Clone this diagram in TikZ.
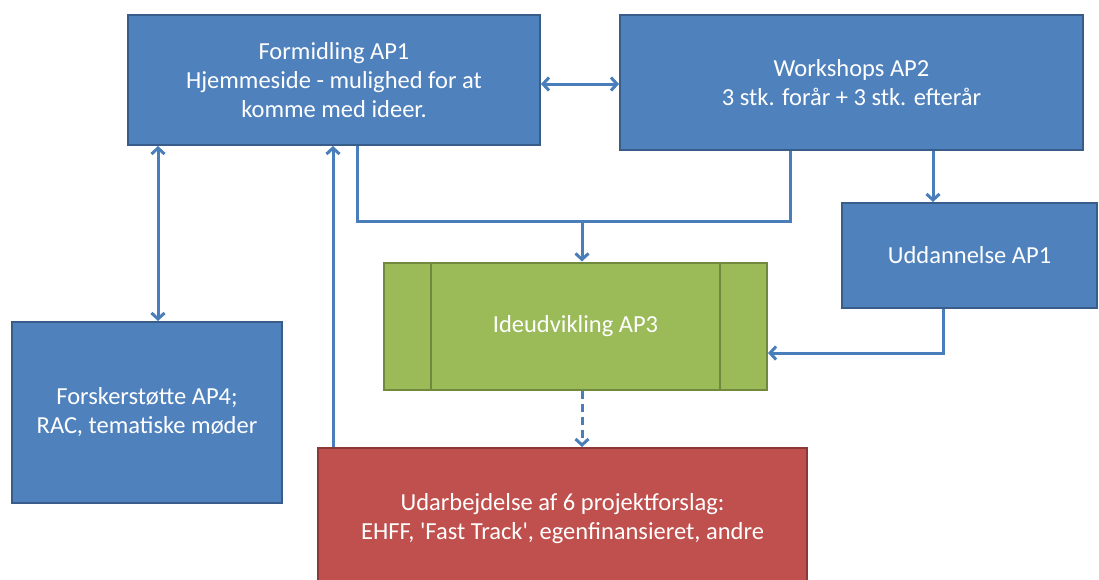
\documentclass[tikz,border=0pt]{standalone}
\usepackage{fontspec}
\setmainfont{Carlito}
\usetikzlibrary{arrows.meta,calc}
\definecolor{bfill}{HTML}{4F81BD}
\definecolor{bdraw}{HTML}{385D8A}
\definecolor{gfill}{HTML}{9BBB59}
\definecolor{gdraw}{HTML}{71893F}
\definecolor{rfill}{HTML}{C0504D}
\definecolor{rdraw}{HTML}{8C3836}
\definecolor{acol}{HTML}{4A7EBB}
\tikzset{
  boxbase/.style={rectangle, line width=2pt, text=white, align=center, inner sep=0pt,
    font=\fontsize{24.5}{29}\selectfont},
  bluebox/.style={boxbase, fill=bfill, draw=bdraw},
  greenbox/.style={boxbase, fill=gfill, draw=gdraw},
  redbox/.style={boxbase, fill=rfill, draw=rdraw},
  conn/.style={draw=acol, line width=3pt},
  arr/.style={conn, -{Straight Barb[length=6pt,width=13pt,line width=3pt]}},
  dbl/.style={conn, {Straight Barb[length=6pt,width=13pt,line width=3pt]}-{Straight Barb[length=6pt,width=13pt,line width=3pt]}},
}
\begin{document}
\begin{tikzpicture}[x=1pt,y=-1pt]
\useasboundingbox (0,0) rectangle (1099,579);
\fill[white] (0,0) rectangle (1099,579);
% boxes
\node[bluebox, minimum width=412pt, minimum height=130pt] (form) at (334,80)
  {Formidling AP1\\Hjemmeside - mulighed for at\\komme med ideer.};
\node[bluebox, minimum width=463pt, minimum height=135pt] (work) at (851.5,82.5)
  {Workshops AP2\\3 stk. forår + 3 stk. efterår};
\node[bluebox, minimum width=255pt, minimum height=105pt] (udd) at (969.5,255.5)
  {Uddannelse AP1};
\node[greenbox, minimum width=383pt, minimum height=127pt] (ide) at (575.5,326)
  {Ideudvikling AP3};
\draw[gdraw, line width=2pt] ([xshift=48pt]ide.north west) -- ([xshift=48pt]ide.south west);
\draw[gdraw, line width=2pt] ([xshift=-48pt]ide.north east) -- ([xshift=-48pt]ide.south east);
\node[bluebox, minimum width=270pt, minimum height=181pt] (forsk) at (147,412.5)
  {Forskerstøtte AP4;\\RAC, tematiske møder};
\node[redbox, minimum width=489pt, minimum height=142pt] (red) at (562.5,519)
  {Udarbejdelse af 6 projektforslag:\\EHFF, \textquotesingle Fast Track\textquotesingle, egenfinansieret, andre};
% helper coordinates
\coordinate (c1) at (158,0);
\coordinate (c2) at (333,0);
\coordinate (jl) at (357,221);
\coordinate (jm) at (582,221);
\coordinate (jr) at (790,221);
\coordinate (c3) at (933,0);
\coordinate (k) at (943,353);
\coordinate (h) at (0,84);
% connectors
\draw[dbl] (form.east |- h) -- (work.west |- h);
\draw[dbl] (form.south -| c1) -- (forsk.north -| c1);
\draw[arr] (red.north -| c2) -- (form.south -| c2);
\draw[conn, line join=miter] (form.south -| jl) -- (jl) -- (jr) -- (work.south -| jr);
\draw[arr] (jm) -- (ide.north -| jm);
\draw[arr] (work.south -| c3) -- (udd.north -| c3);
\draw[arr] (udd.south -| k) |- (ide.east |- k);
\draw[arr, dash pattern=on 8pt off 5pt] (ide.south -| jm) -- (red.north -| jm);
\end{tikzpicture}
\end{document}
